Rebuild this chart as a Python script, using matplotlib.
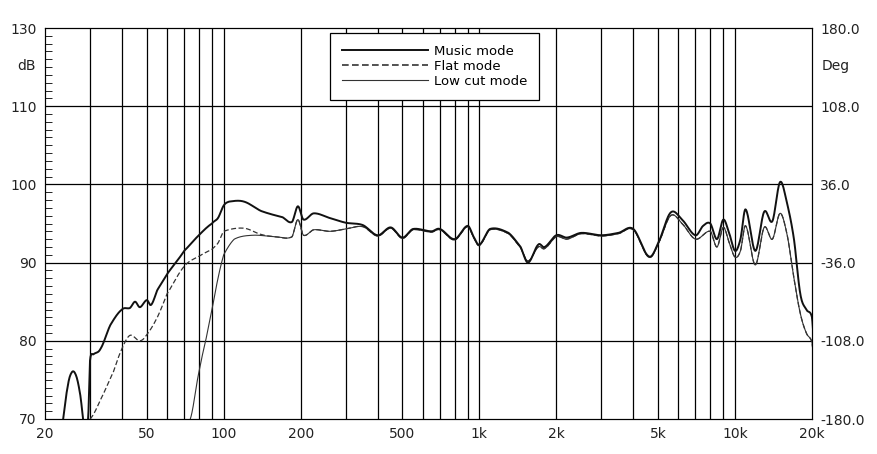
import matplotlib
matplotlib.use("Agg")
import matplotlib.pyplot as plt
import numpy as np
from matplotlib.ticker import FixedLocator, NullFormatter

music_f = [23,24.5,25.5,26.5,27.5,28.5,29.5,30,31,33,36,40,43,45,47,50,52,55,60,65,70,80,90,95,100,105,120,140,170,185,195,205,225,260,300,350,400,450,500,550,650,700,800,900,950,1000,1100,1300,1450,1550,1700,1800,2000,2200,2500,3000,3500,4000,4600,5000,5600,6200,7000,7500,8000,8500,9000,9500,10000,10500,11000,12000,13000,14000,15000,16000,17000,18000,19000,20000,20500,21000,22000]
music_db = [68,74,76,75.5,73,69,70,77.5,78.3,79,82,84,84.2,85,84.3,85.2,84.6,86.5,88.5,90,91.5,93.5,95,95.7,97.3,97.8,97.8,96.6,95.8,95.2,97.2,95.5,96.3,95.7,95.1,94.8,93.5,94.5,93.2,94.3,94.0,94.3,93.0,94.7,93.3,92.3,94.3,93.8,92.0,90.0,92.3,92.0,93.5,93.2,93.8,93.5,93.8,94.3,90.8,92.5,96.4,95.5,93.5,94.7,95.0,93.0,95.5,93.7,91.5,93,96.8,91.5,96.5,95.3,100.3,97.5,93,86,84,83,78,72,68]

flat_f = [30,33,37,40,43,47,50,55,60,70,80,90,95,100,120,140,160,185,195,205,225,260,300]
flat_db = [70,72.5,76,79,80.7,80.0,80.8,83,86,89.5,90.8,91.7,92.5,94,94.4,93.6,93.3,93.3,95.5,93.5,94.2,94.0,94.3]

low_f = [74,80,85,90,95,100,110,130,160,185,195,205,225,260,300]
low_db = [70,76,80,84,88,91,93,93.5,93.3,93.3,95.5,93.5,94.2,94.0,94.3]

mid_f = [350,400,450,500,550,650,700,800,900,950,1000,1100,1300,1450,1550,1700,1800,2000,2200,2500,3000,3500,4000,4600,5000]
mid_db = [94.6,93.4,94.4,93.1,94.2,93.9,94.2,92.9,94.6,93.2,92.2,94.2,93.7,91.9,90.2,92.0,91.8,93.3,93.0,93.7,93.4,93.7,94.2,90.7,92.4]

hf_f = [5600,6200,7000,8000,8500,9000,9500,10000,10500,11000,12000,13000,14000,15000,16000,17000,18000,19000,20000,20500,21000]
hf_db = [96.0,95.0,93,94,92.0,94.5,92.5,90.7,91.5,94.7,89.7,94.5,93.0,96.3,93.5,88,83.5,81.0,79.8,76,70]

tick_pos = [120,110,100,90,80,70]
left_labels = ["130","110","100","90","80","70"]
right_labels = ["180.0","108.0","36.0","-36.0","-108.0","-180.0"]
x_ticks = [20,50,100,200,500,1000,2000,5000,10000,20000]
x_labels = ["20","50","100","200","500","1k","2k","5k","10k","20k"]

def smooth(f, d):
    pts = np.log10(f); vals = np.array(d, dtype=float)
    x = np.linspace(pts[0], pts[-1], 1500)
    out = []
    for xi in x:
        i = np.searchsorted(pts, xi) - 1
        i = min(max(i, 0), len(pts) - 2)
        p0 = vals[max(i-1,0)]; p1 = vals[i]; p2 = vals[i+1]; p3 = vals[min(i+2,len(vals)-1)]
        t = (xi - pts[i]) / (pts[i+1] - pts[i])
        out.append(0.5*((2*p1)+(-p0+p2)*t+(2*p0-5*p1+4*p2-p3)*t*t+(-p0+3*p1-3*p2+p3)*t**3))
    return 10**x, np.array(out)

fig = plt.figure(figsize=(8.78,4.54), dpi=100)
ax = fig.add_axes([45/878, 1-419/454, 767/878, 391/454])
ax.set_xscale("log")
ax.set_xlim(20, 20000)
ax.set_ylim(70, 120)

mf, md = smooth(music_f, music_db)
ff, fd = smooth(flat_f + mid_f + hf_f, flat_db + mid_db + hf_db)
lf_, ld = smooth(low_f + mid_f + hf_f, low_db + mid_db + hf_db)
ax.plot(lf_, ld, color="#333", lw=0.8, zorder=3)
ax.plot(ff, fd, color="#333", lw=0.9, ls=(0,(4,2)), zorder=3)
ax.plot(mf, md, color="#111", lw=1.4, zorder=4)

vgrid = [f*m for m in [10,100,1000] for f in range(2,11)]
for v in vgrid:
    if 20 < v < 20000:
        ax.axvline(v, color="black", lw=0.9, zorder=1)
for h in [110,100,90,80]:
    ax.axhline(h, color="black", lw=0.9, zorder=1)

ax.set_xticks(x_ticks)
ax.set_xticklabels(x_labels)
ax.xaxis.set_minor_formatter(NullFormatter())
ax.tick_params(axis="x", which="both", length=0, labelsize=10, colors="#222", pad=6)
ax.set_yticks(tick_pos)
ax.set_yticklabels(left_labels)
ax.yaxis.set_minor_locator(FixedLocator(np.arange(70,121,1)))
ax.tick_params(axis="y", which="major", length=0, labelsize=10, colors="#222", pad=6)
ax.tick_params(axis="y", which="minor", length=5, direction="in", left=True, right=True)
ax.text(-0.012, 115.2, "dB", transform=ax.get_yaxis_transform(), ha="right", va="center", fontsize=10, color="#222")
ax2 = ax.twinx()
ax2.set_ylim(70, 120)
ax2.set_yticks(tick_pos)
ax2.set_yticklabels(right_labels)
ax2.tick_params(axis="y", length=0, labelsize=10, colors="#222", pad=6)
ax2.text(1.012, 115.2, "Deg", transform=ax2.get_yaxis_transform(), ha="left", va="center", fontsize=10, color="#222")

from matplotlib.lines import Line2D
handles = [Line2D([],[],color="#111",lw=1.4), Line2D([],[],color="#333",lw=1.2,ls=(0,(4,2))), Line2D([],[],color="#333",lw=0.8)]
leg = ax.legend(handles, ["Music mode","Flat mode","Low cut mode"], loc="upper left",
                bbox_to_anchor=((330-45)/767, 1-5/391, 197/767, 0), fancybox=False, framealpha=1,
                edgecolor="black", fontsize=9.5, handlelength=6.5, handletextpad=0.5, labelspacing=0.15,
                borderpad=0.9, borderaxespad=0)
leg.get_frame().set_linewidth(0.9)
fig.savefig("out.png", dpi=100)
